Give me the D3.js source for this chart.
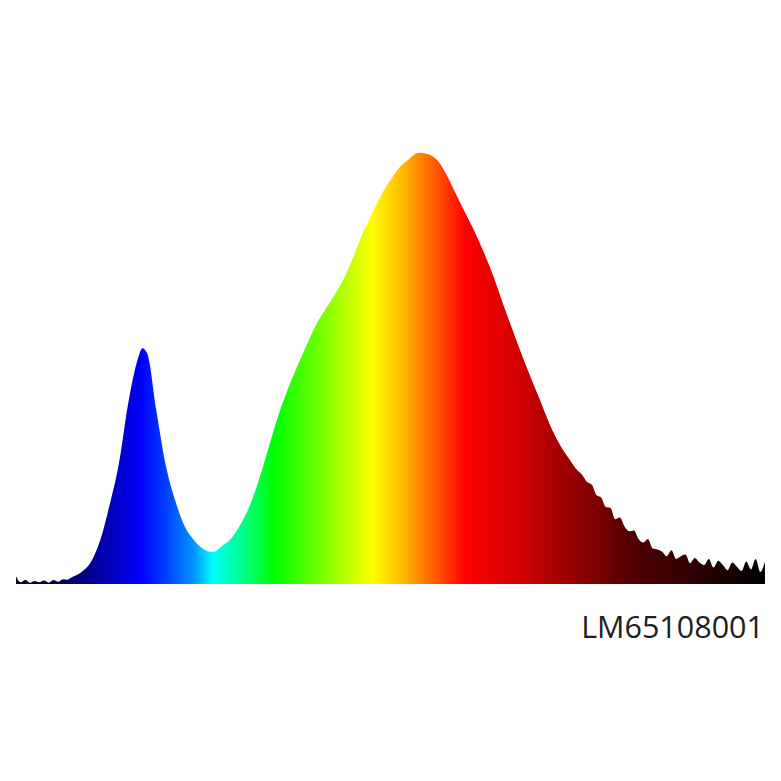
<!DOCTYPE html>
<html>
<head>
<meta charset="utf-8">
<script src="https://cdn.jsdelivr.net/npm/d3@7"></script>
<style>
  html, body { margin: 0; padding: 0; background: #ffffff; }
  svg { display: block; }
</style>
</head>
<body>
<script>
// Wavelength (nm) of each sample
const wavelengths = [
  380, 382.5, 385, 387.5, 390, 392.5, 395, 397.5, 400, 402.5, 405, 407.5, 410,
  415, 420, 425, 430, 435, 440, 445, 447.5, 450, 455, 460, 465, 470, 475, 480,
  485, 490, 495, 500, 505, 510, 515, 520, 525, 530, 535, 540, 545, 550, 555,
  560, 565, 570, 575, 580, 585, 590, 595, 600, 605, 610, 615, 620, 625, 630,
  635, 640, 645, 650, 655, 660, 665, 670, 675, 680,
  682.5, 685, 687.5, 690, 692.5, 695, 697.5, 700, 702.5, 705, 707.5, 710,
  712.5, 715, 717.5, 720, 722.5, 725, 727.5, 730, 732.5, 735, 737.5, 740,
  742.5, 745, 747.5, 750, 752.5, 755, 757.5, 760, 762.5, 765, 767.5, 770,
  772.5, 775, 777.5, 780
];
// Relative spectral intensity (peak = 1)
const intensity = [
  0.018, 0.004, 0.010, 0.003, 0.007, 0.004, 0.008, 0.003, 0.009, 0.005, 0.011, 0.010, 0.016,
  0.028, 0.051, 0.102, 0.183, 0.280, 0.420, 0.520, 0.546, 0.535, 0.400, 0.275, 0.194, 0.134, 0.102, 0.081,
  0.074, 0.088, 0.106, 0.139, 0.183, 0.245, 0.317, 0.389, 0.449, 0.502, 0.551, 0.598, 0.634, 0.668, 0.706,
  0.755, 0.810, 0.856, 0.900, 0.935, 0.965, 0.984, 0.998, 0.995, 0.981, 0.947, 0.902, 0.858, 0.815, 0.766,
  0.712, 0.650, 0.590, 0.532, 0.477, 0.424, 0.370, 0.326, 0.292, 0.262,
  0.252, 0.236, 0.230, 0.206, 0.200, 0.178, 0.176, 0.150, 0.154, 0.133, 0.122, 0.124,
  0.104, 0.096, 0.104, 0.082, 0.080, 0.075, 0.064, 0.078, 0.058, 0.064, 0.068, 0.048,
  0.060, 0.050, 0.044, 0.058, 0.038, 0.054, 0.044, 0.032, 0.050, 0.040, 0.030, 0.052,
  0.034, 0.058, 0.028, 0.052
];
// Spectrum colour ramp: wavelength stops and colours
const stopWavelengths = [380, 400, 415, 440, 447, 460, 475, 485, 500, 518, 545, 570, 585, 597, 620, 650, 680, 710, 740, 780];
const stopColors = ["#0a0a20", "#000040", "#000080", "#0000e0", "#0000ff", "#0040ff", "#0095ff", "#00ffff", "#00ff90", "#00ff00", "#80ff00", "#ffff00", "#ffc000", "#ff8000", "#ff0000", "#d00000", "#900000", "#500000", "#300000", "#000000"];
const label = "LM65108001";

const W = 781, H = 781;
const svg = d3.select("body").append("svg").attr("width", W).attr("height", H);

const x = d3.scaleLinear().domain([380, 780]).range([16, 765]);
const y = d3.scaleLinear().domain([0, 1]).range([584, 152]);

const grad = svg.append("defs").append("linearGradient")
  .attr("id", "spec")
  .attr("gradientUnits", "userSpaceOnUse")
  .attr("x1", x(380)).attr("x2", x(780)).attr("y1", 0).attr("y2", 0);
grad.selectAll("stop").data(stopWavelengths).join("stop")
  .attr("offset", d => (x(d) - x(380)) / (x(780) - x(380)))
  .attr("stop-color", (d, i) => stopColors[i]);

const data = wavelengths.map((w, i) => ({ w, v: intensity[i] }));

const area = d3.area()
  .x(d => x(d.w))
  .y0(y(0))
  .y1(d => y(d.v))
  .curve(d3.curveMonotoneX);

svg.append("path").datum(data)
  .attr("d", area)
  .attr("fill", "url(#spec)");

svg.append("text")
  .attr("x", 764).attr("y", 638)
  .attr("text-anchor", "end")
  .attr("font-family", "'Open Sans', Lato, sans-serif")
  .attr("font-size", 30.5)
  .attr("fill", "#1e1e1e")
  .text(label);
</script>
</body>
</html>
